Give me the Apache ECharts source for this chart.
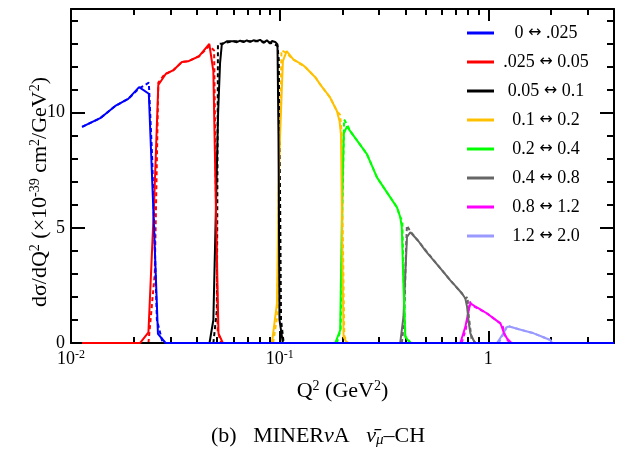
<!DOCTYPE html>
<html>
<head>
<meta charset="utf-8">
<script src="https://cdn.jsdelivr.net/npm/echarts@6/dist/echarts.min.js"></script>
<style>
  html, body { margin: 0; background: #fff; }
  #main { width: 623px; height: 449px; }
</style>
</head>
<body>
<div id="main"></div>
<script>
// bin names and colours (legend order)
const binLow = ['0', '.025', '0.05', '0.1', '0.2', '0.4', '0.8', '1.2'];
const binHigh = ['.025', '0.05', '0.1', '0.2', '0.4', '0.8', '1.2', '2.0'];
const binNames = ['0 ↔ .025', '.025 ↔ 0.05', '0.05 ↔ 0.1', '0.1 ↔ 0.2', '0.2 ↔ 0.4', '0.4 ↔ 0.8', '0.8 ↔ 1.2', '1.2 ↔ 2.0'];
const binColors = ['#0000ff', '#ff0000', '#000000', '#ffc000', '#00ff00', '#666666', '#ff00ff', '#9999ff'];

// solid curves [Q2, dsigma/dQ2]
const bin1 = [[0.0113, 9.38], [0.0138, 9.76], [0.0163, 10.29], [0.0188, 10.6], [0.0212, 11.11], [0.0236, 10.82], [0.0250, 5], [0.0261, 0.4], [0.0284, 0], [4, 0]];
const bin2 = [[0.0113, 0], [0.0214, 0], [0.0235, 0.46], [0.0250, 6], [0.0262, 11.2], [0.0285, 11.69], [0.0310, 11.85], [0.0340, 12.2], [0.0364, 12.23], [0.0411, 12.45], [0.0460, 12.98], [0.0481, 11.8], [0.0497, 5], [0.0509, 0.42], [0.0534, 0], [4, 0]];
const bin3 = [[0.0113, 0], [0.0461, 0], [0.0481, 1.0], [0.0507, 10], [0.0518, 12.16], [0.0528, 12.96], [0.0558, 13.1], [0.0600, 13.1], [0.0623, 13.06], [0.0647, 13.13], [0.0671, 13.06], [0.0696, 13.14], [0.0722, 13.07], [0.0749, 13.14], [0.0777, 13.11], [0.0806, 13.16], [0.0836, 13.03], [0.0868, 13.14], [0.0900, 13.0], [0.0918, 13.11], [0.0952, 13.07], [0.0976, 12.96], [0.0987, 9], [0.0998, 1.0], [0.1036, 0], [4, 0]];
const bin4 = [[0.0113, 0], [0.0918, 0], [0.0970, 1.7], [0.0995, 8], [0.1036, 12.24], [0.1080, 12.67], [0.1165, 12.3], [0.1278, 12.1], [0.1325, 11.98], [0.1480, 11.54], [0.1563, 11.23], [0.1650, 10.95], [0.1746, 10.65], [0.1880, 10.07], [0.1935, 9.64], [0.1966, 9.07], [0.1990, 5], [0.2023, 0.27], [0.2100, 0], [4, 0]];
const bin5 = [[0.0113, 0], [0.1846, 0], [0.1950, 0.56], [0.1990, 6], [0.2030, 9.1], [0.2101, 9.4], [0.2178, 9.2], [0.2619, 8.2], [0.2925, 7.19], [0.3266, 6.54], [0.3648, 5.89], [0.3784, 5.46], [0.3846, 5.03], [0.3920, 2.5], [0.3999, 0.27], [0.4227, 0], [4, 0]];
const bin6 = [[0.0113, 0], [0.378, 0], [0.392, 1.14], [0.400, 3], [0.4074, 4.6], [0.4227, 4.81], [0.46, 4.45], [0.50, 4.0], [0.5465, 3.59], [0.60, 3.15], [0.6573, 2.72], [0.70, 2.45], [0.7477, 2.15], [0.7757, 1.93], [0.7908, 1.57], [0.805, 0.9], [0.82, 0.42], [0.861, 0], [4, 0]];
const bin7 = [[0.0113, 0], [0.734, 0], [0.7757, 0.7], [0.80, 1.3], [0.82, 1.72], [0.86, 1.6], [0.92, 1.45], [0.986, 1.28], [1.06, 1.07], [1.142, 0.85], [1.16, 0.7], [1.19, 0.4], [1.229, 0.2], [1.29, 0], [4, 0]];
const bin8 = [[0.0113, 0], [1.10, 0], [1.18, 0.42], [1.229, 0.7], [1.26, 0.72], [1.40, 0.6], [1.65, 0.42], [1.80, 0.28], [1.98, 0.13], [2.02, 0], [4, 0]];

// dashed curves
const dash1 = [[0.0113, 9.38], [0.0138, 9.76], [0.0163, 10.29], [0.0188, 10.6], [0.0212, 11.05], [0.0236, 11.3], [0.0245, 8], [0.0258, 1], [0.0275, 0]];
const dash2 = [[0.0235, 0], [0.0252, 3], [0.0262, 11.3], [0.0280, 11.65], [0.0310, 11.85], [0.0340, 12.2], [0.0364, 12.23], [0.0411, 12.45], [0.0460, 12.9], [0.0485, 12.7], [0.0495, 6], [0.0505, 0.5], [0.0525, 0]];
const dash3 = [[0.0481, 0], [0.0500, 1.4], [0.0506, 12.98], [0.0528, 13.0], [0.0600, 13.1], [0.0700, 13.1], [0.0800, 13.1], [0.0900, 13.05], [0.0976, 12.9], [0.0990, 12.3], [0.1005, 6], [0.1015, 1], [0.1045, 0]];
const dash4 = [[0.0930, 0], [0.0975, 1.2], [0.0995, 8], [0.1020, 12.7], [0.1074, 12.6], [0.1165, 12.3], [0.1325, 11.98], [0.1480, 11.54], [0.1563, 11.23], [0.1746, 10.65], [0.1880, 10.07], [0.1950, 9.9], [0.1985, 9.0], [0.2005, 5], [0.2040, 0.3], [0.2120, 0]];
const dash5 = [[0.1880, 0], [0.1960, 0.6], [0.2000, 6], [0.2035, 9.7], [0.2101, 9.5], [0.2178, 9.2], [0.2619, 8.2], [0.2925, 7.19], [0.3266, 6.54], [0.3648, 5.89], [0.3784, 5.46], [0.3870, 5.3], [0.3920, 3], [0.4000, 0.3], [0.4250, 0]];
const dash6 = [[0.385, 0], [0.395, 1], [0.403, 4], [0.407, 5.1], [0.4227, 4.85], [0.5465, 3.6], [0.6573, 2.72], [0.7477, 2.15], [0.7757, 1.93], [0.795, 2.0], [0.805, 1.2], [0.83, 0.2], [0.87, 0]];
const dash7 = [[0.745, 0], [0.78, 0.6], [0.815, 1.8], [0.83, 1.65], [0.986, 1.28], [1.142, 0.85], [1.17, 0.75], [1.20, 0.35], [1.24, 0.1], [1.30, 0]];
const dash8 = [[1.12, 0], [1.19, 0.45], [1.229, 0.75], [1.40, 0.6], [1.65, 0.42], [1.98, 0.13], [2.03, 0]];

// tick values
const xMajor = [0.01, 0.1, 1];
const xMinor = [0.02, 0.03, 0.04, 0.05, 0.06, 0.07, 0.08, 0.09, 0.2, 0.3, 0.4, 0.5, 0.6, 0.7, 0.8, 0.9, 2, 3];
const yMajor = [0, 5, 10];
const yMinor = [1, 2, 3, 4, 6, 7, 8, 9, 11, 12, 13, 14];

const solids = [bin1, bin2, bin3, bin4, bin5, bin6, bin7, bin8];
const dashes = [dash1, dash2, dash3, dash4, dash5, dash6, dash7, dash8];

const FONT = 'Liberation Serif';
const black = '#000';

function xAxisOf(pos, ticks, len, withLine, withLabel) {
  return {
    type: 'log', logBase: 10, min: 0.01, max: 4, position: pos,
    axisLine: { show: withLine, onZero: false, lineStyle: { color: black, width: 2 } },
    axisTick: { show: true, inside: true, length: len, customValues: ticks, lineStyle: { color: black, width: 2 } },
    axisLabel: withLabel ? {
      customValues: xMajor, margin: 6,
      formatter: function (v) {
        if (v >= 1) return '{b|1}';
        return '{b|10}{s|' + Math.round(Math.log10(v)) + '}';
      },
      rich: {
        b: { fontFamily: FONT, fontSize: 18, color: black, lineHeight: 20 },
        s: { fontFamily: FONT, fontSize: 12, color: black, verticalAlign: 'top', lineHeight: 20 }
      }
    } : { show: false },
    splitLine: { show: false }
  };
}

function yAxisOf(pos, ticks, len, withLine, withLabel) {
  return {
    type: 'value', min: 0, max: 14.5, position: pos,
    axisLine: { show: withLine, onZero: false, lineStyle: { color: black, width: 2 } },
    axisTick: { show: true, inside: true, length: len, customValues: ticks, lineStyle: { color: black, width: 2 } },
    axisLabel: withLabel ? { customValues: yMajor, margin: 6, fontFamily: FONT, fontSize: 18, color: black } : { show: false },
    splitLine: { show: false }
  };
}

const titleRich = {
  n: { fontFamily: FONT, fontSize: 22, color: black, lineHeight: 24 },
  s: { fontFamily: FONT, fontSize: 14, color: black, verticalAlign: 'top', lineHeight: 24 }
};

const xAxes = [
  xAxisOf('bottom', xMajor, 12, true, true),
  xAxisOf('bottom', xMinor, 6, false, false),
  xAxisOf('top', xMajor, 12, true, false),
  xAxisOf('top', xMinor, 6, false, false)
];
xAxes[0].name = '{n|Q}{s|2}{n| (GeV}{s|2}{n|)}';
xAxes[0].nameLocation = 'middle';
xAxes[0].nameGap = 36;
xAxes[0].nameMoveOverlap = false;
xAxes[0].nameTextStyle = { rich: titleRich };

const yAxes = [
  yAxisOf('left', yMajor, 14, true, true),
  yAxisOf('left', yMinor, 7, false, false),
  yAxisOf('right', yMajor, 14, true, false),
  yAxisOf('right', yMinor, 7, false, false)
];
yAxes[0].name = '{n|dσ/dQ}{s|2}{n| (×10}{s|-39}{n| cm}{s|2}{n|/GeV}{s|2}{n|)}';
yAxes[0].nameLocation = 'middle';
yAxes[0].nameGap = 19;
yAxes[0].nameRotate = 90;
yAxes[0].nameMoveOverlap = false;
yAxes[0].nameTextStyle = { padding: [0, 32, 0, 0], rich: titleRich };

const series = [];
// draw order: red over the zero line on the left, blue on top overall
const order = [7, 6, 5, 4, 3, 2, 1, 0];
order.forEach(function (i) {
  series.push({
    name: binNames[i], type: 'line', data: solids[i], showSymbol: false, symbol: 'none',
    lineStyle: { color: binColors[i], width: 2 }, itemStyle: { color: binColors[i] }, z: 3
  });
  series.push({
    name: 'dash' + i, type: 'line', data: dashes[i], showSymbol: false, symbol: 'none',
    lineStyle: { color: binColors[i], width: 2, type: [4, 3] }, itemStyle: { color: binColors[i] }, z: 2
  });
});

const chart = echarts.init(document.getElementById('main'), null, { renderer: 'canvas' });
chart.setOption({
  animation: false,
  backgroundColor: '#fff',
  title: {
    text: '{n|(b)   MINER}{i|ν}{n|A   }{i|ν̄}{u|μ}{n|–CH}',
    left: 206, top: 419,
    textStyle: {
      fontWeight: 'normal',
      rich: {
        n: { fontFamily: FONT, fontSize: 22, fontWeight: 'normal', color: black, lineHeight: 24 },
        i: { fontFamily: FONT, fontSize: 22, fontWeight: 'normal', fontStyle: 'italic', color: black, lineHeight: 24 },
        u: { fontFamily: FONT, fontSize: 15, fontWeight: 'normal', fontStyle: 'italic', color: black, verticalAlign: 'bottom', lineHeight: 24 }
      }
    }
  },
  grid: { left: 71, right: 9, top: 9, bottom: 106, containLabel: false },
  legend: {
    data: binNames, orient: 'vertical', left: 462, top: 18,
    icon: 'rect', itemWidth: 27, itemHeight: 3, itemGap: 9, itemTextGap: 5,
    formatter: function (n) {
      const k = binNames.indexOf(n);
      return '{a|' + binLow[k] + ' }{r|↔}{a| ' + binHigh[k] + '}';
    },
    textStyle: {
      width: 94,
      rich: {
        a: { align: 'center', fontFamily: FONT, fontSize: 18, lineHeight: 20, height: 20, color: black },
        r: { align: 'center', fontFamily: 'DejaVu Sans', fontSize: 16, lineHeight: 20, height: 20, color: black }
      }
    }
  },
  xAxis: xAxes,
  yAxis: yAxes,
  series: series
});
</script>
</body>
</html>
